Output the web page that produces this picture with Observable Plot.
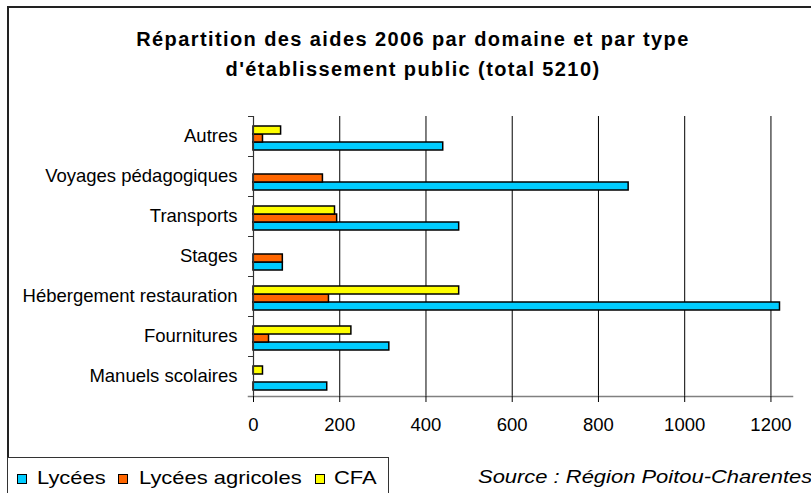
<!DOCTYPE html>
<html><head><meta charset="utf-8">
<script src="https://cdn.jsdelivr.net/npm/d3@7"></script>
<script src="https://cdn.jsdelivr.net/npm/@observablehq/plot@0.6"></script>
<style>
body{margin:0;background:#fff;}
#wrap{position:relative;width:811px;height:493px;overflow:hidden;background:#fff;font-family:"Liberation Sans",Arial,sans-serif;color:#000;}
#frame{position:absolute;left:7px;top:6px;width:900px;height:600px;border-top:2px solid #222;border-left:2px solid #222;}
#chart{position:absolute;left:0;top:0;}
.title{position:absolute;left:0;width:826px;text-align:center;font-weight:bold;font-size:20px;letter-spacing:1.4px;line-height:1;white-space:nowrap;}
#legend{position:absolute;left:7px;top:457px;width:380px;height:60px;border:1.5px solid #333;background:#fff;}
.sw{position:absolute;width:8px;height:8px;border:1.5px solid #000;}
.lt{position:absolute;font-size:18.6px;line-height:1;white-space:nowrap;transform-origin:0 0;transform:scaleX(1.18);}
#source{position:absolute;left:478px;top:468px;font-size:18.6px;font-style:italic;line-height:1;white-space:nowrap;transform-origin:0 0;transform:scaleX(1.18);}
</style></head><body>
<div id="wrap">
 <div id="frame"></div>
 <div id="chart"></div>
 <div class="title" style="top:29px">Répartition des aides 2006 par domaine et par type</div>
 <div class="title" style="top:59px">d'établissement public (total 5210)</div>
 <div id="legend"></div>
 <div id="source">Source : Région Poitou-Charentes</div>
</div>
<script>
const categories = ["Autres","Voyages pédagogiques","Transports","Stages","Hébergement restauration","Fournitures","Manuels scolaires"];
const series = ["Lycées","Lycées agricoles","CFA"];
const lycees = [440, 870, 477, 68, 1221, 315, 171];
const agricoles = [22, 161, 194, 68, 175, 36, 0];
const cfa = [64, 0, 189, 0, 477, 227, 22];
const colors = ["#00CCFF","#FF6600","#FFFF00"];
const xTicks = [0,200,400,600,800,1000,1200];

const values = [lycees, agricoles, cfa];
const rows = [];
categories.forEach((c, i) => {
  series.forEach((s, j) => {
    if (values[j][i] > 0) rows.push({category: c, series: s, value: values[j][i]});
  });
});

const plot = Plot.plot({
  width: 811, height: 450,
  marginLeft: 253, marginRight: 19, marginTop: 113, marginBottom: 51,
  x: {domain: [0, 1250], axis: null},
  y: {domain: ["CFA","Lycées agricoles","Lycées"], axis: null, paddingInner: 0, paddingOuter: 0.86, align: 0.62},
  fy: {domain: categories, axis: null, padding: 0},
  color: {domain: series, range: colors},
  style: {fontFamily: "'Liberation Sans', Arial, sans-serif", fontSize: "18.5px", background: "transparent", overflow: "visible"},
  marks: [
    Plot.gridX({ticks: xTicks.filter(d => d > 0), stroke: "#000", strokeOpacity: 1, strokeWidth: 1}),
    Plot.barX(rows, {x: "value", y: "series", fy: "category", fill: "series", stroke: "#000", strokeWidth: 1.5}),
    Plot.ruleX([0], {stroke: "#333", strokeWidth: 1.2}),
    Plot.frame({anchor: "top", insetLeft: -5, insetRight: 539, stroke: "#333"}),
    Plot.frame({anchor: "bottom", insetLeft: -5, insetRight: 539, stroke: "#333"}),
    Plot.frame({anchor: "bottom", facetAnchor: "bottom", insetLeft: -5, stroke: "#808080", strokeWidth: 1.5}),
    Plot.axisX({ticks: xTicks, anchor: "bottom", tickSize: 6, tickPadding: 15, tickFormat: d => String(d), label: null, stroke: "#000"}),
    Plot.axisFy({anchor: "left", tickSize: 0, tickPadding: 16, label: null})
  ]
});
document.getElementById("chart").appendChild(plot);

const legend = document.getElementById("legend");
const swLeft = [16, 117, 314];
const txLeft = [36, 138, 333];
series.forEach((s, j) => {
  const sw = document.createElement("div");
  sw.className = "sw";
  sw.style.left = (swLeft[j] - 7) + "px";
  sw.style.top = (473 - 457) + "px";
  sw.style.background = colors[j];
  legend.appendChild(sw);
  const t = document.createElement("div");
  t.className = "lt";
  t.style.left = (txLeft[j] - 7) + "px";
  t.style.top = (468 - 457) + "px";
  t.textContent = s;
  legend.appendChild(t);
});
</script>
</body></html>
